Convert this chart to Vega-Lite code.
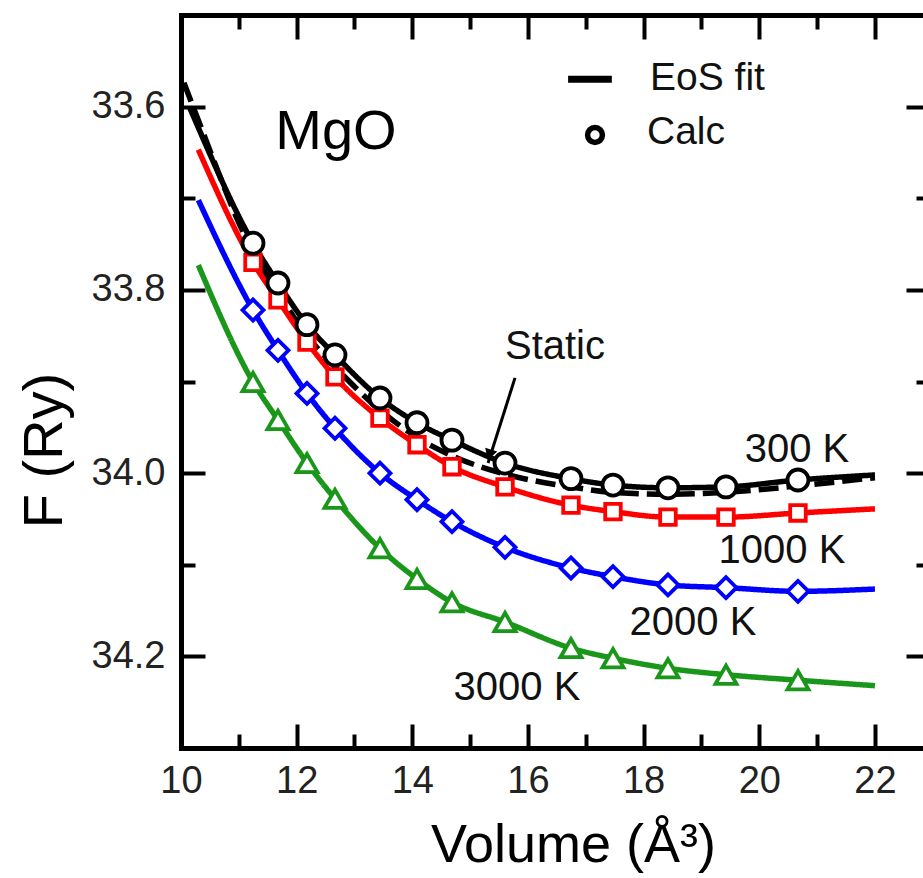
{
  "$schema": "https://vega.github.io/schema/vega-lite/v6.json",
  "width": 742,
  "height": 733,
  "autosize": {"type": "none"},
  "padding": {"left": 181, "top": 15, "right": 0, "bottom": 130},
  "background": "white",
  "config": {
    "view": {"stroke": null},
    "font": "Liberation Sans",
    "axis": {"grid": false, "domainColor": "black", "tickColor": "black", "labelColor": "#222", "titleColor": "black", "domainWidth": 5, "tickWidth": 4, "domainCap": "square", "labelFont": "Liberation Sans", "titleFont": "Liberation Sans", "titleFontWeight": "normal", "labelOverlap": false, "labelFlush": false}
  },
  "resolve": {"axis": {"x": "independent", "y": "independent"}},
  "datasets": {
    "fit": [
      {"T": "Static", "V": 10.05, "F": 33.574}, {"T": "Static", "V": 10.3, "F": 33.615}, {"T": "Static", "V": 11.245, "F": 33.759}, {"T": "Static", "V": 11.677, "F": 33.803}, {"T": "Static", "V": 12.179, "F": 33.85}, {"T": "Static", "V": 12.663, "F": 33.884}, {"T": "Static", "V": 13.441, "F": 33.931}, {"T": "Static", "V": 14.081, "F": 33.961}, {"T": "Static", "V": 14.686, "F": 33.981}, {"T": "Static", "V": 15.603, "F": 34.001}, {"T": "Static", "V": 16.744, "F": 34.015}, {"T": "Static", "V": 17.47, "F": 34.021}, {"T": "Static", "V": 18.421, "F": 34.023}, {"T": "Static", "V": 19.424, "F": 34.021}, {"T": "Static", "V": 20.669, "F": 34.014}, {"T": "Static", "V": 22.0, "F": 34.005},
      {"T": "3000 K", "V": 10.3, "F": 33.773}, {"T": "3000 K", "V": 11.245, "F": 33.9005}, {"T": "3000 K", "V": 11.677, "F": 33.942}, {"T": "3000 K", "V": 12.179, "F": 33.989}, {"T": "3000 K", "V": 12.663, "F": 34.028}, {"T": "3000 K", "V": 13.441, "F": 34.082}, {"T": "3000 K", "V": 14.081, "F": 34.1155}, {"T": "3000 K", "V": 14.686, "F": 34.141}, {"T": "3000 K", "V": 15.603, "F": 34.1625}, {"T": "3000 K", "V": 16.744, "F": 34.191}, {"T": "3000 K", "V": 17.47, "F": 34.202}, {"T": "3000 K", "V": 18.421, "F": 34.213}, {"T": "3000 K", "V": 19.424, "F": 34.22}, {"T": "3000 K", "V": 20.669, "F": 34.226}, {"T": "3000 K", "V": 22.0, "F": 34.232},
      {"T": "2000 K", "V": 10.3, "F": 33.702}, {"T": "2000 K", "V": 11.245, "F": 33.822}, {"T": "2000 K", "V": 11.677, "F": 33.866}, {"T": "2000 K", "V": 12.179, "F": 33.913}, {"T": "2000 K", "V": 12.663, "F": 33.951}, {"T": "2000 K", "V": 13.441, "F": 34.0}, {"T": "2000 K", "V": 14.081, "F": 34.029}, {"T": "2000 K", "V": 14.686, "F": 34.053}, {"T": "2000 K", "V": 15.603, "F": 34.081}, {"T": "2000 K", "V": 16.744, "F": 34.1035}, {"T": "2000 K", "V": 17.47, "F": 34.113}, {"T": "2000 K", "V": 18.421, "F": 34.122}, {"T": "2000 K", "V": 19.424, "F": 34.125}, {"T": "2000 K", "V": 20.669, "F": 34.129}, {"T": "2000 K", "V": 22.0, "F": 34.1265},
      {"T": "1000 K", "V": 10.3, "F": 33.647}, {"T": "1000 K", "V": 11.245, "F": 33.77}, {"T": "1000 K", "V": 11.677, "F": 33.811}, {"T": "1000 K", "V": 12.179, "F": 33.857}, {"T": "1000 K", "V": 12.663, "F": 33.895}, {"T": "1000 K", "V": 13.441, "F": 33.94}, {"T": "1000 K", "V": 14.081, "F": 33.969}, {"T": "1000 K", "V": 14.686, "F": 33.993}, {"T": "1000 K", "V": 15.603, "F": 34.015}, {"T": "1000 K", "V": 16.744, "F": 34.035}, {"T": "1000 K", "V": 17.47, "F": 34.042}, {"T": "1000 K", "V": 18.421, "F": 34.048}, {"T": "1000 K", "V": 19.424, "F": 34.048}, {"T": "1000 K", "V": 20.669, "F": 34.0435}, {"T": "1000 K", "V": 22.0, "F": 34.039},
      {"T": "300 K", "V": 10.15, "F": 33.601}, {"T": "300 K", "V": 10.3, "F": 33.623}, {"T": "300 K", "V": 11.245, "F": 33.749}, {"T": "300 K", "V": 11.677, "F": 33.7925}, {"T": "300 K", "V": 12.179, "F": 33.838}, {"T": "300 K", "V": 12.663, "F": 33.871}, {"T": "300 K", "V": 13.441, "F": 33.918}, {"T": "300 K", "V": 14.081, "F": 33.945}, {"T": "300 K", "V": 14.686, "F": 33.964}, {"T": "300 K", "V": 15.603, "F": 33.989}, {"T": "300 K", "V": 16.744, "F": 34.006}, {"T": "300 K", "V": 17.47, "F": 34.013}, {"T": "300 K", "V": 18.421, "F": 34.016}, {"T": "300 K", "V": 19.424, "F": 34.015}, {"T": "300 K", "V": 20.669, "F": 34.0075}, {"T": "300 K", "V": 22.0, "F": 34.002}
    ],
    "calc": [
      {"T": "3000 K", "V": 11.245, "F": 33.9005}, {"T": "3000 K", "V": 11.677, "F": 33.942}, {"T": "3000 K", "V": 12.179, "F": 33.989}, {"T": "3000 K", "V": 12.663, "F": 34.028}, {"T": "3000 K", "V": 13.441, "F": 34.082}, {"T": "3000 K", "V": 14.081, "F": 34.1155}, {"T": "3000 K", "V": 14.686, "F": 34.141}, {"T": "3000 K", "V": 15.603, "F": 34.1625}, {"T": "3000 K", "V": 16.744, "F": 34.191}, {"T": "3000 K", "V": 17.47, "F": 34.202}, {"T": "3000 K", "V": 18.421, "F": 34.213}, {"T": "3000 K", "V": 19.424, "F": 34.22}, {"T": "3000 K", "V": 20.669, "F": 34.226},
      {"T": "2000 K", "V": 11.245, "F": 33.822}, {"T": "2000 K", "V": 11.677, "F": 33.866}, {"T": "2000 K", "V": 12.179, "F": 33.913}, {"T": "2000 K", "V": 12.663, "F": 33.951}, {"T": "2000 K", "V": 13.441, "F": 34.0}, {"T": "2000 K", "V": 14.081, "F": 34.029}, {"T": "2000 K", "V": 14.686, "F": 34.053}, {"T": "2000 K", "V": 15.603, "F": 34.081}, {"T": "2000 K", "V": 16.744, "F": 34.1035}, {"T": "2000 K", "V": 17.47, "F": 34.113}, {"T": "2000 K", "V": 18.421, "F": 34.122}, {"T": "2000 K", "V": 19.424, "F": 34.125}, {"T": "2000 K", "V": 20.669, "F": 34.129},
      {"T": "1000 K", "V": 11.245, "F": 33.77}, {"T": "1000 K", "V": 11.677, "F": 33.811}, {"T": "1000 K", "V": 12.179, "F": 33.857}, {"T": "1000 K", "V": 12.663, "F": 33.895}, {"T": "1000 K", "V": 13.441, "F": 33.94}, {"T": "1000 K", "V": 14.081, "F": 33.969}, {"T": "1000 K", "V": 14.686, "F": 33.993}, {"T": "1000 K", "V": 15.603, "F": 34.015}, {"T": "1000 K", "V": 16.744, "F": 34.035}, {"T": "1000 K", "V": 17.47, "F": 34.042}, {"T": "1000 K", "V": 18.421, "F": 34.048}, {"T": "1000 K", "V": 19.424, "F": 34.048}, {"T": "1000 K", "V": 20.669, "F": 34.0435},
      {"T": "300 K", "V": 11.245, "F": 33.749}, {"T": "300 K", "V": 11.677, "F": 33.7925}, {"T": "300 K", "V": 12.179, "F": 33.838}, {"T": "300 K", "V": 12.663, "F": 33.871}, {"T": "300 K", "V": 13.441, "F": 33.918}, {"T": "300 K", "V": 14.081, "F": 33.945}, {"T": "300 K", "V": 14.686, "F": 33.964}, {"T": "300 K", "V": 15.603, "F": 33.989}, {"T": "300 K", "V": 16.744, "F": 34.006}, {"T": "300 K", "V": 17.47, "F": 34.013}, {"T": "300 K", "V": 18.421, "F": 34.016}, {"T": "300 K", "V": 19.424, "F": 34.015}, {"T": "300 K", "V": 20.669, "F": 34.0075}
    ]
  },
  "layer": [
    {
      "data": {"name": "fit"},
      "mark": {"type": "line", "interpolate": "monotone", "strokeWidth": 5.5},
      "encoding": {
        "x": {"field": "V", "type": "quantitative", "scale": {"domain": [10, 22.831], "nice": false, "zero": false},
          "axis": {"orient": "bottom", "values": [10, 11, 12, 13, 14, 15, 16, 17, 18, 19, 20, 21, 22],
            "tickSize": {"condition": {"test": "datum.value % 2 === 0", "value": -24}, "value": -14},
            "labelExpr": "datum.value % 2 === 0 ? datum.label : ''", "labelPadding": 38, "labelFontSize": 38,
            "title": "Volume (Å³)", "titleFontSize": 54, "titleBaseline": "alphabetic", "titleX": 392, "titleY": 113}},
        "y": {"field": "F", "type": "quantitative", "scale": {"domain": [33.5, 34.3], "reverse": true, "nice": false, "zero": false},
          "axis": {"orient": "left", "values": [33.6, 33.7, 33.8, 33.9, 34.0, 34.1, 34.2],
            "tickSize": {"condition": {"test": "round(datum.value*10) % 2 === 0", "value": -24}, "value": -14},
            "labelExpr": "round(datum.value*10) % 2 === 0 ? format(datum.value, '.1f') : ''", "labelPadding": 40, "labelFontSize": 38,
            "title": "F (Ry)", "titleFontSize": 56, "titleBaseline": "alphabetic", "titleAngle": -90, "titleX": -120, "titleY": 435}},
        "color": {"field": "T", "type": "nominal", "scale": {"domain": ["300 K", "1000 K", "2000 K", "3000 K", "Static"], "range": ["#000000", "#ff0000", "#0000ff", "#1a961a", "#000000"]}, "legend": null},
        "strokeDash": {"field": "T", "type": "nominal", "scale": {"domain": ["300 K", "1000 K", "2000 K", "3000 K", "Static"], "range": [[1, 0], [1, 0], [1, 0], [1, 0], [20, 8]]}, "legend": null}
      }
    },
    {
      "data": {"name": "calc"},
      "mark": {"type": "point", "filled": true, "fill": "white", "fillOpacity": 1, "strokeWidth": 3.8, "opacity": 1, "size": 441},
      "encoding": {
        "x": {"field": "V", "type": "quantitative", "scale": {"domain": [10, 22.831], "nice": false, "zero": false},
          "axis": {"orient": "top", "values": [10, 11, 12, 13, 14, 15, 16, 17, 18, 19, 20, 21, 22],
            "tickSize": {"condition": {"test": "datum.value % 2 === 0", "value": -24}, "value": -14},
            "labels": false, "title": null}},
        "y": {"field": "F", "type": "quantitative", "scale": {"domain": [33.5, 34.3], "reverse": true, "nice": false, "zero": false},
          "axis": {"orient": "right", "values": [33.6, 33.7, 33.8, 33.9, 34.0, 34.1, 34.2],
            "tickSize": {"condition": {"test": "round(datum.value*10) % 2 === 0", "value": -24}, "value": -14},
            "labels": false, "title": null, "domain": false, "offset": 7}},
        "stroke": {"field": "T", "type": "nominal", "scale": {"domain": ["300 K", "1000 K", "2000 K", "3000 K"], "range": ["#000000", "#ff0000", "#0000ff", "#1a961a"]}, "legend": null},
        "shape": {"field": "T", "type": "nominal", "scale": {"domain": ["300 K", "1000 K", "2000 K", "3000 K"], "range": ["circle", "M-0.74,-0.74H0.74V0.74H-0.74Z", "diamond", "triangle-up"]}, "legend": null}
      }
    },
    {
      "data": {"values": [{"V": 15.776, "F": 33.896, "V2": 15.309, "F2": 33.989}]},
      "mark": {"type": "rule", "strokeWidth": 3, "color": "black"},
      "encoding": {
        "x": {"field": "V", "type": "quantitative", "axis": null},
        "y": {"field": "F", "type": "quantitative", "axis": null},
        "x2": {"field": "V2"},
        "y2": {"field": "F2"}
      }
    },
    {
      "data": {"values": [{"V": 15.335, "F": 33.98}]},
      "mark": {"type": "point", "shape": "triangle-down", "filled": true, "color": "black", "size": 160, "angle": 18, "opacity": 1},
      "encoding": {
        "x": {"field": "V", "type": "quantitative", "axis": null},
        "y": {"field": "F", "type": "quantitative", "axis": null}
      }
    },
    {
      "data": {"values": [
        {"label": "300 K", "V": 20.652, "F": 33.975},
        {"label": "1000 K", "V": 20.393, "F": 34.085},
        {"label": "2000 K", "V": 18.853, "F": 34.1636},
        {"label": "3000 K", "V": 15.81, "F": 34.2345},
        {"label": "Static", "V": 16.467, "F": 33.862}
      ]},
      "mark": {"type": "text", "fontSize": 40, "align": "center", "baseline": "middle", "color": "#111", "font": "Liberation Sans"},
      "encoding": {
        "x": {"field": "V", "type": "quantitative", "axis": null},
        "y": {"field": "F", "type": "quantitative", "axis": null},
        "text": {"field": "label"}
      }
    },
    {
      "data": {"values": [{"label": "MgO", "V": 12.68, "F": 33.628}]},
      "mark": {"type": "text", "fontSize": 56, "align": "center", "baseline": "middle", "color": "black", "font": "Liberation Sans"},
      "encoding": {
        "x": {"field": "V", "type": "quantitative", "axis": null},
        "y": {"field": "F", "type": "quantitative", "axis": null},
        "text": {"field": "label"}
      }
    },
    {
      "data": {"values": [{"V": 16.694, "F": 33.57, "V2": 17.45}]},
      "mark": {"type": "rule", "strokeWidth": 7, "color": "black"},
      "encoding": {
        "x": {"field": "V", "type": "quantitative", "axis": null},
        "y": {"field": "F", "type": "quantitative", "axis": null},
        "x2": {"field": "V2"}
      }
    },
    {
      "data": {"values": [{"V": 17.159, "F": 33.631}]},
      "mark": {"type": "point", "shape": "circle", "filled": true, "fill": "white", "stroke": "black", "strokeWidth": 5.5, "size": 220, "opacity": 1},
      "encoding": {
        "x": {"field": "V", "type": "quantitative", "axis": null},
        "y": {"field": "F", "type": "quantitative", "axis": null}
      }
    },
    {
      "data": {"values": [{"label": "EoS fit", "V": 18.11, "F": 33.569}, {"label": "Calc", "V": 18.058, "F": 33.628}]},
      "mark": {"type": "text", "fontSize": 39, "align": "left", "baseline": "middle", "color": "#111", "font": "Liberation Sans"},
      "encoding": {
        "x": {"field": "V", "type": "quantitative", "axis": null},
        "y": {"field": "F", "type": "quantitative", "axis": null},
        "text": {"field": "label"}
      }
    }
  ]
}
